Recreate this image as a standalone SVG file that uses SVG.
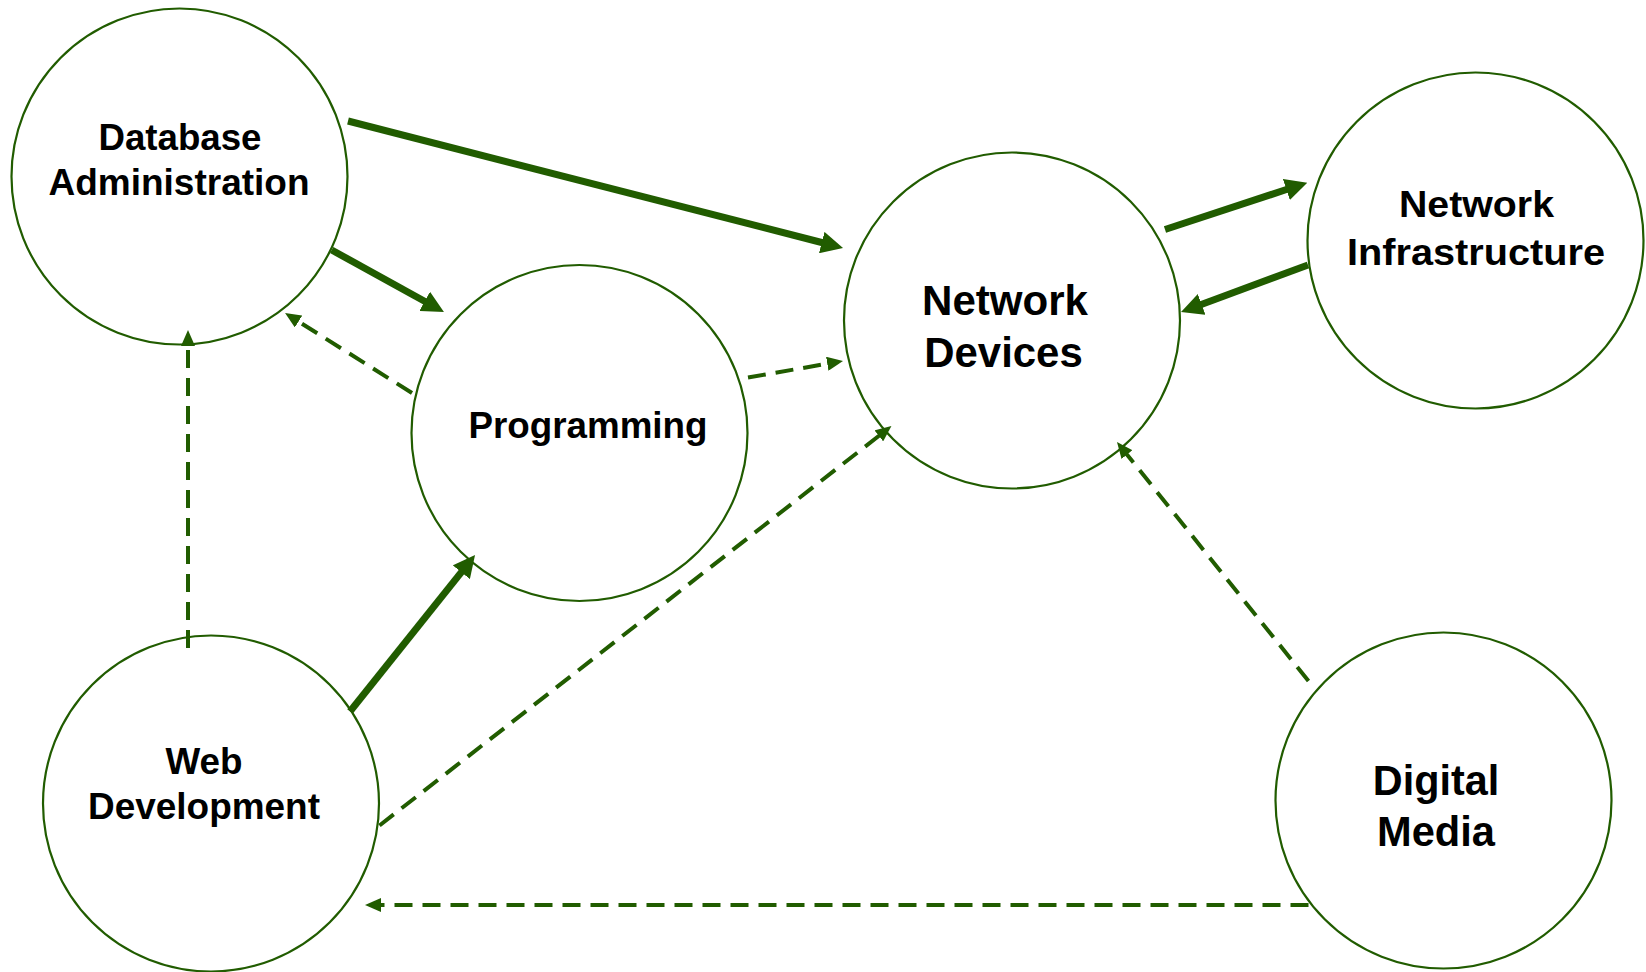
<svg xmlns="http://www.w3.org/2000/svg" width="1646" height="972" viewBox="0 0 1646 972">
<style>
.node circle{fill:#fff;stroke:#215c00;stroke-width:2.2}
.node text{font-family:"Liberation Sans",Arial,Helvetica,sans-serif;font-weight:bold;fill:#000;text-anchor:middle}
.s{font-size:36px}
.l{font-size:42px}
.m{font-size:37px}
.solid{stroke:#215c00;stroke-width:7;fill:none;marker-end:url(#ah)}
.dash{stroke:#215c00;stroke-width:4;fill:none;stroke-dasharray:18 10;marker-end:url(#ahs)}
</style>
<defs>
<marker id="ah" markerUnits="userSpaceOnUse" viewBox="0 0 22 22" refX="4" refY="11" markerWidth="22" markerHeight="22" orient="auto">
<path d="M0,0 L22,11 L0,22 z" fill="#215c00"/>
</marker>
<marker id="ahs" markerUnits="userSpaceOnUse" viewBox="0 0 16 14" refX="4" refY="7" markerWidth="16" markerHeight="14" orient="auto">
<path d="M0,0 L16,7 L0,14 z" fill="#215c00"/>
</marker>
</defs>
<rect width="1646" height="972" fill="#fff"/>
<g id="node-database" class="node">
<circle cx="179.5" cy="176.5" r="168"/>
<text class="s" x="180" y="150" textLength="163" lengthAdjust="spacingAndGlyphs">Database</text>
<text class="s" x="179" y="195" textLength="261" lengthAdjust="spacingAndGlyphs">Administration</text>
</g>
<g id="node-programming" class="node">
<circle cx="579.5" cy="433" r="168"/>
<text class="s" x="588" y="438" textLength="239" lengthAdjust="spacingAndGlyphs">Programming</text>
</g>
<g id="node-network-devices" class="node">
<circle cx="1012" cy="320.5" r="168"/>
<text class="l" x="1005" y="315" textLength="166" lengthAdjust="spacingAndGlyphs">Network</text>
<text class="l" x="1003.5" y="366.5" textLength="158.5" lengthAdjust="spacingAndGlyphs">Devices</text>
</g>
<g id="node-network-infrastructure" class="node">
<circle cx="1475.5" cy="240.5" r="168"/>
<text class="m" x="1476.5" y="217" textLength="155" lengthAdjust="spacingAndGlyphs">Network</text>
<text class="m" x="1476" y="265" textLength="258" lengthAdjust="spacingAndGlyphs">Infrastructure</text>
</g>
<g id="node-web-development" class="node">
<circle cx="211" cy="803.5" r="168"/>
<text class="s" x="204" y="774" textLength="77" lengthAdjust="spacingAndGlyphs">Web</text>
<text class="s" x="204" y="819" textLength="232" lengthAdjust="spacingAndGlyphs">Development</text>
</g>
<g id="node-digital-media" class="node">
<circle cx="1443.5" cy="800.5" r="168"/>
<text class="l" x="1436" y="795" textLength="126.5" lengthAdjust="spacingAndGlyphs">Digital</text>
<text class="l" x="1436" y="846" textLength="118" lengthAdjust="spacingAndGlyphs">Media</text>
</g>
<g id="connectors">
<line class="solid" x1="348" y1="121" x2="825.6" y2="243.5"/>
<line class="solid" x1="331.7" y1="250" x2="428.2" y2="303.3"/>
<line class="solid" x1="1165" y1="229.5" x2="1290.2" y2="188.3"/>
<line class="solid" x1="1308" y1="265" x2="1197.9" y2="305.75"/>
<line class="solid" x1="350" y1="711.5" x2="463.8" y2="569.1"/>
<line class="dash" x1="412" y1="393" x2="295.2" y2="319.4"/>
<line class="dash" x1="188" y1="648" x2="188" y2="342"/>
<line class="dash" x1="748" y1="377.5" x2="831.2" y2="363.05"/>
<line class="dash" x1="379.5" y1="825.5" x2="882" y2="433.4"/>
<line class="dash" x1="1308.5" y1="681" x2="1124.5" y2="451.4"/>
<line class="dash" x1="1308.5" y1="905" x2="377" y2="905"/>
</g>
</svg>
